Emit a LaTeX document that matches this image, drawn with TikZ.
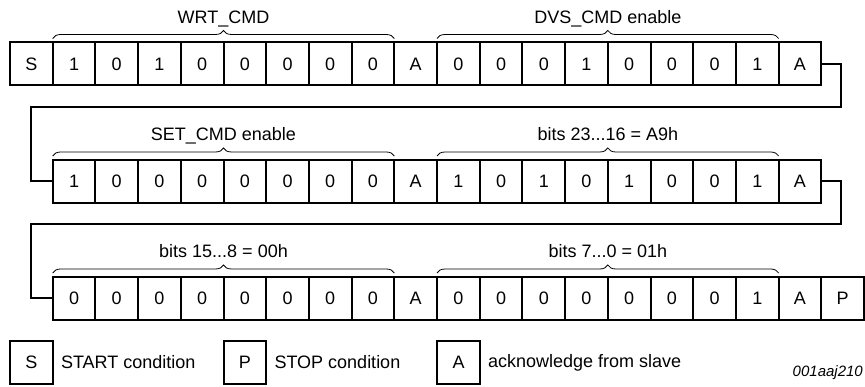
\documentclass[tikz,border=0pt]{standalone}
\usepackage{fontspec}
\setmainfont{Liberation Sans}
\usetikzlibrary{positioning,decorations.pathreplacing}

\begin{document}
\begin{tikzpicture}[x=1pt,y=-1pt,font=\fontsize{18}{21}\selectfont,
  bit/.style={draw,line width=2pt,minimum width=42.7pt,minimum height=43pt,
    inner sep=0pt,outer sep=0pt},
  link/.style={line width=2pt},
  brc/.style={decorate,decoration={brace,amplitude=8pt},line width=0.8pt},
  lbl/.style={inner sep=0pt,anchor=base}]
\useasboundingbox (0,0) rectangle (865,387);

% first byte row: start, address, command
\foreach \t [count=\i] in {S,1,0,1,0,0,0,0,0,A,0,0,0,1,0,0,0,1,A}
  \node[bit] (a\i) at ({10+42.7*(\i-0.5)},64) {\t};

% second row
\foreach \t [count=\i] in {1,0,0,0,0,0,0,0,A,1,0,1,0,1,0,0,1,A}
  \node[bit] (b\i) at ({52.7+42.7*(\i-0.5)},181.5) {\t};

% third row, ends with stop
\foreach \t [count=\i] in {0,0,0,0,0,0,0,0,A,0,0,0,0,0,0,0,1,A,P}
  \node[bit] (c\i) at ({52.7+42.7*(\i-0.5)},298.5) {\t};

% braces over the data bytes
\draw[brc] ([yshift=4pt]a2.north west) -- ([yshift=4pt]a9.north east)
  node[lbl,midway,yshift=15pt] {WRT\_CMD};
\draw[brc] ([yshift=4pt]a11.north west) -- ([yshift=4pt]a18.north east)
  node[lbl,midway,yshift=15pt] {DVS\_CMD enable};
\draw[brc] ([yshift=4pt]b1.north west) -- ([yshift=4pt]b8.north east)
  node[lbl,midway,yshift=15pt] {SET\_CMD enable};
\draw[brc] ([yshift=4pt]b10.north west) -- ([yshift=4pt]b17.north east)
  node[lbl,midway,yshift=15pt] {bits 23...16 = A9h};
\draw[brc] ([yshift=4pt]c1.north west) -- ([yshift=4pt]c8.north east)
  node[lbl,midway,yshift=15pt] {bits 15...8 = 00h};
\draw[brc] ([yshift=4pt]c10.north west) -- ([yshift=4pt]c17.north east)
  node[lbl,midway,yshift=15pt] {bits 7...0 = 01h};

% wrap-around lines
\draw[link] (a19.east) -- ++(20,0) -- ++(0,43) -| ([xshift=-21.3pt]b1.west) -- (b1.west);
\draw[link] (b18.east) -- ++(20,0) -- ++(0,42.5) -| ([xshift=-21.3pt]c1.west) -- (c1.west);

% legend
\node[bit] (ls) at (31.5,362.5) {S};
\node[lbl,anchor=west,right=8pt of ls] (ts) {START condition};
\node[bit] (lp) at (245,362.5) {P};
\node[lbl,anchor=west,right=8pt of lp] (tp) {STOP condition};
\node[bit] (la) at (458.5,362.5) {A};
\node[lbl,anchor=west,right=8pt of la] (ta) {acknowledge from slave};

\node[anchor=east,inner sep=0pt,font=\fontsize{15}{18}\selectfont\itshape] (id) at (863,373) {001aaj210};
\end{tikzpicture}
\end{document}
